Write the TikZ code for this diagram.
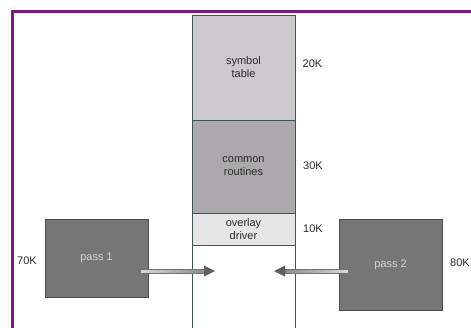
\documentclass[tikz,border=0pt]{standalone}
\usepackage{fontspec}
\setmainfont{Liberation Sans}
\definecolor{framepurple}{HTML}{7A1A7C}
\definecolor{segline}{HTML}{3E5556}
\definecolor{symfill}{HTML}{CCCACD}
\definecolor{comfill}{HTML}{ABA9AB}
\definecolor{ovlfill}{HTML}{E6E6E6}
\definecolor{passfill}{HTML}{767775}
\definecolor{passtext}{HTML}{D4D4D4}
\definecolor{headgray}{HTML}{5F5F5F}
\definecolor{txt}{HTML}{2A2A2A}
\begin{document}
\begin{tikzpicture}[x=1pt,y=-1pt,
  seg/.style={draw=segline,line width=0.8pt,minimum width=103pt,inner sep=0pt,align=center,text=txt,font=\fontsize{11}{13}\selectfont},
  passbox/.style={draw=black!70,line width=0.7pt,fill=passfill,minimum width=103pt,inner sep=0pt,text=passtext,font=\fontsize{11}{13}\selectfont},
  sizelbl/.style={text=txt,font=\fontsize{11}{13}\selectfont,inner sep=0pt},
  shaft/.style={draw=black!55,line width=0.4pt},
  headtri/.style={fill=headgray,draw=none}]
\useasboundingbox (0,0) rectangle (471,327);
\clip (0,0) rectangle (471,327);
\fill[white] (0,0) rectangle (471,327);
% frame
\draw[framepurple,line width=3pt] (12.5,340) -- (12.5,11.5) -- (480,11.5);
% memory column
\node[seg,fill=symfill,minimum height=105pt] (sym) at (243.5,67.5) {symbol\\table};
\node[seg,fill=comfill,minimum height=93pt] (com) at (243.5,166.5) {common\\routines};
\node[seg,fill=ovlfill,minimum height=32pt] (ovl) at (243.5,229) {overlay\\driver};
\node[seg,fill=white,minimum height=90pt] (free) at (243.5,290) {};
% size labels
\node[sizelbl] (k20) at (312.5,64) {20K};
\node[sizelbl] (k30) at (313,166) {30K};
\node[sizelbl] (k10) at (313,229) {10K};
% pass boxes
\node[passbox,minimum height=78pt] (p1) at (96.5,258) {pass 1};
\node[passbox,minimum height=91pt] (p2) at (390.5,264.5) {pass 2};
\node[sizelbl] (k70) at (27,261) {70K};
\node[sizelbl] (k80) at (460,263) {80K};
% arrows
\coordinate (a1) at (215,271);
\coordinate (a2) at (274,271);
\shade[left color=black!15,right color=black!45] (140,269) rectangle (205,273);
\draw[shaft] (140,269) rectangle (205,273);
\fill[headtri] (204,265.5) -- (a1) -- (204,276.5) -- cycle;
\shade[left color=black!45,right color=black!15] (285,269) rectangle (348,273);
\draw[shaft] (285,269) rectangle (348,273);
\fill[headtri] (285,265.5) -- (a2) -- (285,276.5) -- cycle;
\end{tikzpicture}
\end{document}
